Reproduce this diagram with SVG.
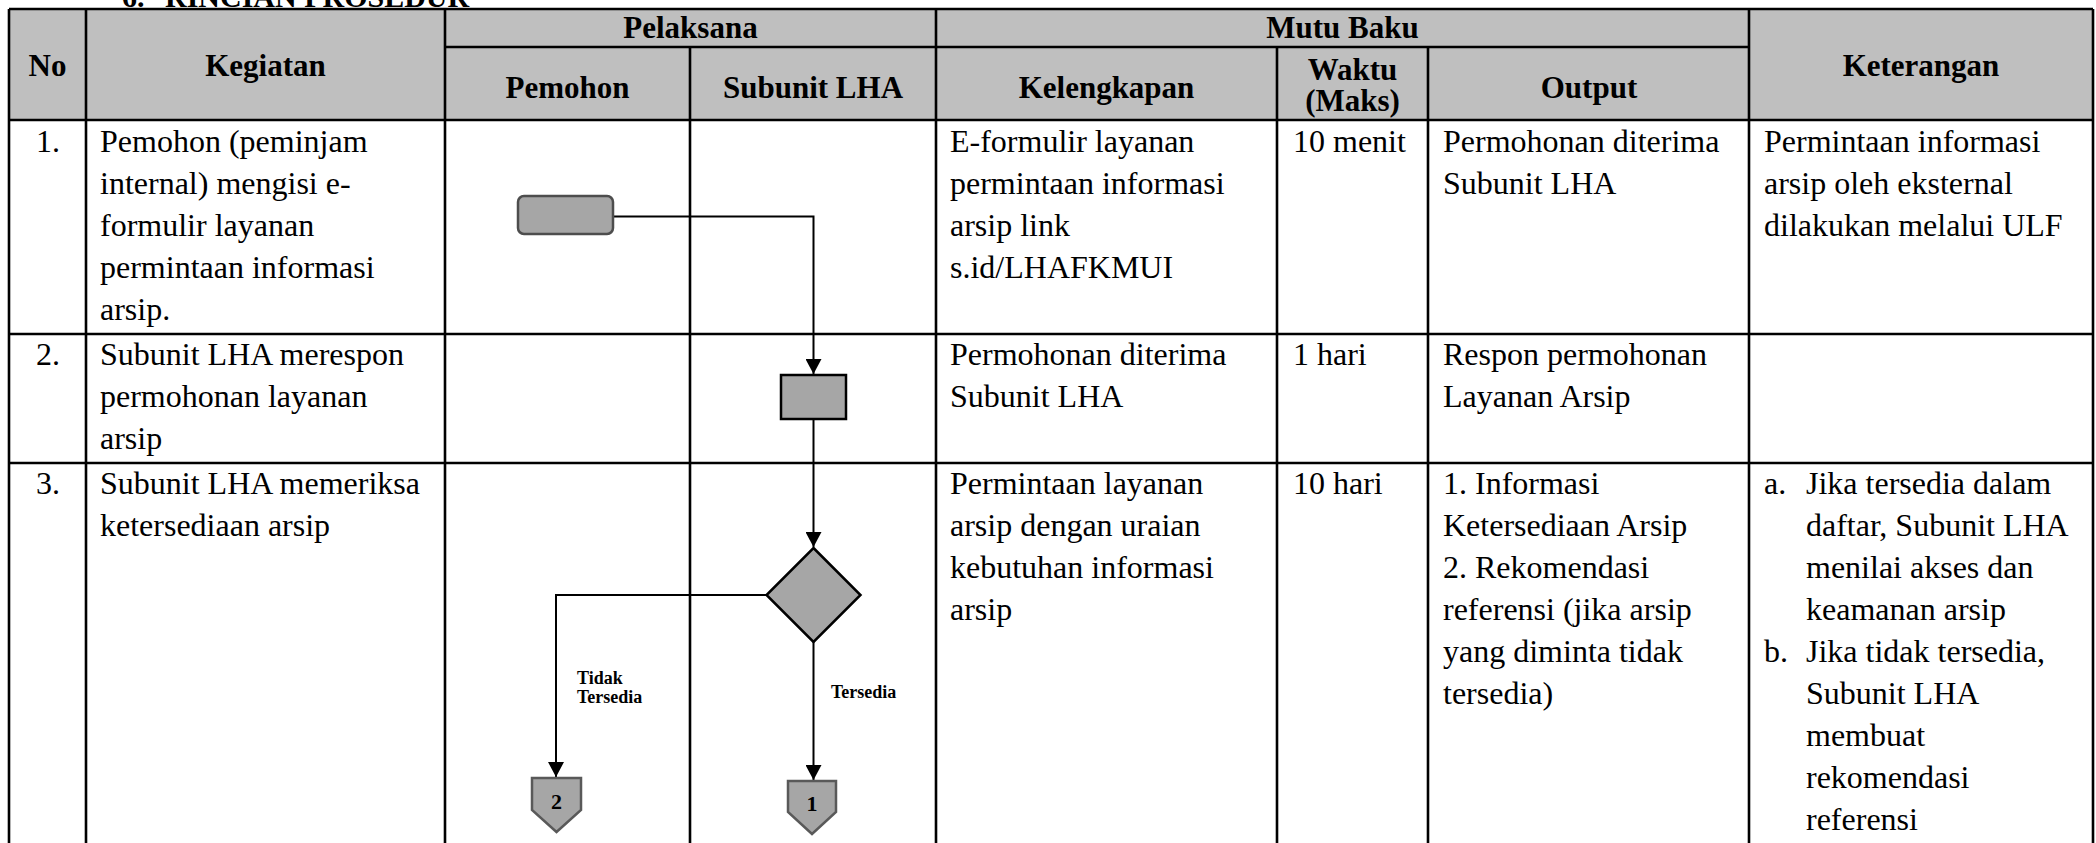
<svg xmlns="http://www.w3.org/2000/svg" width="2096" height="843" viewBox="0 0 2096 843">
<style>
.grid{stroke:#000;stroke-width:2.6;fill:none}
.hdr{fill:#bfbfbf}
.ht{font-family:"Liberation Serif",serif;font-weight:bold;font-size:31px;text-anchor:middle;fill:#000}
.bt{font-family:"Liberation Serif",serif;font-size:32px;fill:#000}
.num{font-family:"Liberation Serif",serif;font-size:32px;fill:#000;text-anchor:middle}
.shape{fill:#a6a6a6;stroke-width:2.5}
.conn{stroke:#000;stroke-width:2;fill:none}
.lbl{font-family:"Liberation Serif",serif;font-weight:bold;font-size:18px;fill:#000}
.cn{font-family:"Liberation Serif",serif;font-weight:bold;font-size:22px;fill:#000;text-anchor:middle}
</style>
<defs>
<marker id="arr" viewBox="0 0 15 16" refX="15" refY="8" markerWidth="15" markerHeight="16" markerUnits="userSpaceOnUse" orient="auto">
<path d="M0,0 L15,8 L0,16 Z" fill="#000"/>
</marker>
</defs>
<rect width="2096" height="843" fill="#fff"/>
<text class="ht" style="text-anchor:start;font-size:30px" y="7"><tspan x="122">6.</tspan><tspan x="165">RINCIAN PROSEDUR</tspan></text>

<g id="table">
<rect class="hdr" x="9" y="9" width="2084" height="111"/>
<g id="grid-lines" class="grid">
<path d="M9,9H2093M445,47H1749M9,120H2093M9,334H2093M9,463H2093"/>
<path d="M9,9V843M86,9V843M445,9V843M690,47V843M936,9V843M1277,47V843M1428,47V843M1749,9V843M2093,9V843"/>
</g>
<g id="header-text">
<text class="ht" x="47.5" y="76">No</text>
<text class="ht" x="265.5" y="76">Kegiatan</text>
<text class="ht" x="690.5" y="38">Pelaksana</text>
<text class="ht" x="1342.5" y="38">Mutu Baku</text>
<text class="ht" x="1921" y="76">Keterangan</text>
<text class="ht" x="567.5" y="98">Pemohon</text>
<text class="ht" x="813" y="98">Subunit LHA</text>
<text class="ht" x="1106.5" y="98">Kelengkapan</text>
<text class="ht" x="1352.5" y="80">Waktu</text>
<text class="ht" x="1352.5" y="111">(Maks)</text>
<text class="ht" x="1589" y="98">Output</text>
</g>
<g id="row1">
<text class="num" x="48" y="152">1.</text>
<text class="bt" y="152"><tspan x="100">Pemohon (peminjam</tspan><tspan x="100" dy="42">internal) mengisi e-</tspan><tspan x="100" dy="42">formulir layanan</tspan><tspan x="100" dy="42">permintaan informasi</tspan><tspan x="100" dy="42">arsip.</tspan></text>
<text class="bt" y="152"><tspan x="950">E-formulir layanan</tspan><tspan x="950" dy="42">permintaan informasi</tspan><tspan x="950" dy="42">arsip link</tspan><tspan x="950" dy="42">s.id/LHAFKMUI</tspan></text>
<text class="bt" x="1293" y="152">10 menit</text>
<text class="bt" y="152"><tspan x="1443">Permohonan diterima</tspan><tspan x="1443" dy="42">Subunit LHA</tspan></text>
<text class="bt" y="152"><tspan x="1764">Permintaan informasi</tspan><tspan x="1764" dy="42">arsip oleh eksternal</tspan><tspan x="1764" dy="42">dilakukan melalui ULF</tspan></text>
</g>
<g id="row2">
<text class="num" x="48" y="365">2.</text>
<text class="bt" y="365"><tspan x="100">Subunit LHA merespon</tspan><tspan x="100" dy="42">permohonan layanan</tspan><tspan x="100" dy="42">arsip</tspan></text>
<text class="bt" y="365"><tspan x="950">Permohonan diterima</tspan><tspan x="950" dy="42">Subunit LHA</tspan></text>
<text class="bt" x="1293" y="365">1 hari</text>
<text class="bt" y="365"><tspan x="1443">Respon permohonan</tspan><tspan x="1443" dy="42">Layanan Arsip</tspan></text>
</g>
<g id="row3">
<text class="num" x="48" y="494">3.</text>
<text class="bt" y="494"><tspan x="100">Subunit LHA memeriksa</tspan><tspan x="100" dy="42">ketersediaan arsip</tspan></text>
<text class="bt" y="494"><tspan x="950">Permintaan layanan</tspan><tspan x="950" dy="42">arsip dengan uraian</tspan><tspan x="950" dy="42">kebutuhan informasi</tspan><tspan x="950" dy="42">arsip</tspan></text>
<text class="bt" x="1293" y="494">10 hari</text>
<text class="bt" y="494"><tspan x="1443">1. Informasi</tspan><tspan x="1443" dy="42">Ketersediaan Arsip</tspan><tspan x="1443" dy="42">2. Rekomendasi</tspan><tspan x="1443" dy="42">referensi (jika arsip</tspan><tspan x="1443" dy="42">yang diminta tidak</tspan><tspan x="1443" dy="42">tersedia)</tspan></text>
<text class="bt" x="1764" y="494">a.</text>
<text class="bt" y="494"><tspan x="1806">Jika tersedia dalam</tspan><tspan x="1806" dy="42">daftar, Subunit LHA</tspan><tspan x="1806" dy="42">menilai akses dan</tspan><tspan x="1806" dy="42">keamanan arsip</tspan></text>
<text class="bt" x="1764" y="662">b.</text>
<text class="bt" y="662"><tspan x="1806">Jika tidak tersedia,</tspan><tspan x="1806" dy="42">Subunit LHA</tspan><tspan x="1806" dy="42">membuat</tspan><tspan x="1806" dy="42">rekomendasi</tspan><tspan x="1806" dy="42">referensi</tspan></text>
</g>
</g>

<g id="connectors">
<path class="conn" d="M613,216.5H813.5V374" marker-end="url(#arr)"/>
<path class="conn" d="M813.5,419V547" marker-end="url(#arr)"/>
<path class="conn" d="M767,595H556V777" marker-end="url(#arr)"/>
<path class="conn" d="M813.5,642V780" marker-end="url(#arr)"/>
<text class="lbl" x="577" y="684">Tidak</text>
<text class="lbl" x="577" y="703">Tersedia</text>
<text class="lbl" x="831" y="698">Tersedia</text>
</g>

<g id="start">
<rect class="shape" x="518" y="196" width="95" height="38" rx="6" stroke="#4d4d4d"/>
</g>
<g id="respond">
<rect class="shape" x="781" y="375" width="65" height="44" stroke="#000"/>
</g>
<g id="decision">
<polygon class="shape" points="813.5,548 860.5,595 813.5,642 766.5,595" stroke="#000"/>
</g>
<g id="offpage-2">
<polygon class="shape" points="532,778 581,778 581,810 556.5,832 532,810" stroke="#595959"/>
<text class="cn" x="556.5" y="809">2</text>
</g>
<g id="offpage-1">
<polygon class="shape" points="788,781 836,781 836,812 812,834 788,812" stroke="#595959"/>
<text class="cn" x="812" y="811">1</text>
</g>
</svg>
